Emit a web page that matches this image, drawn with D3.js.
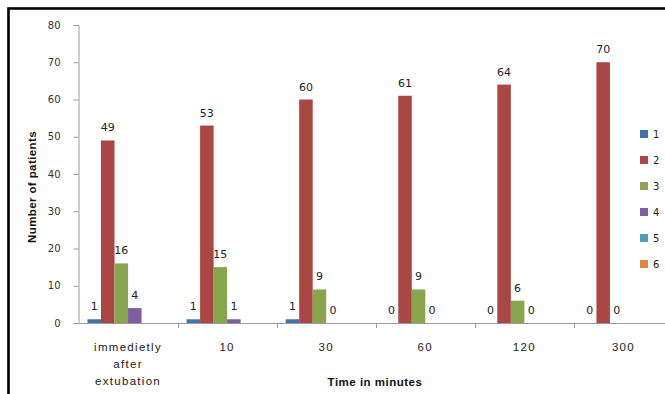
<!DOCTYPE html>
<html>
<head>
<meta charset="utf-8">
<script src="https://cdn.jsdelivr.net/npm/d3@7/dist/d3.min.js"></script>
<style>
  html, body { margin: 0; padding: 0; background: #fff; }
  svg { display: block; }
</style>
</head>
<body>
<svg id="chart" width="665" height="394"></svg>
<script>
// Categories along the x axis (time in minutes)
const categories = ["immedietly after extubation", "10", "30", "60", "120", "300"];
const categoryLines = [["immedietly", "after", "extubation"], ["10"], ["30"], ["60"], ["120"], ["300"]];

// Series names and values (null = no value recorded)
const seriesNames = ["1", "2", "3", "4", "5", "6"];
const series1 = [1, 1, 1, 0, 0, 0];
const series2 = [49, 53, 60, 61, 64, 70];
const series3 = [16, 15, 9, 9, 6, 0];
const series4 = [4, 1, 0, 0, 0, null];
const series5 = [null, null, null, null, null, null];
const series6 = [null, null, null, null, null, null];
const seriesValues = [series1, series2, series3, series4, series5, series6];

const yTicks = [0, 10, 20, 30, 40, 50, 60, 70, 80];
const colors = ["#4572A7", "#AA4643", "#89A54E", "#7D5E9E", "#4BA0B5", "#E0873D"];

const svg = d3.select("#chart");

// outer frame
svg.append("rect")
  .attr("x", 8.5).attr("y", 8.5)
  .attr("width", 700).attr("height", 420)
  .attr("fill", "none").attr("stroke", "#000").attr("stroke-width", 2.6);

const plotLeft = 78.5, plotRight = 673, plotTop = 25, plotBottom = 323;

const y = d3.scaleLinear().domain([0, 80]).range([plotBottom, plotTop]);
const x0 = d3.scaleBand().domain(categories).range([plotLeft, plotRight]).paddingInner(0).paddingOuter(0);
const x1 = d3.scaleBand().domain(seriesNames).range([9, x0.bandwidth() - 9]).padding(0);

// y axis
const yAxis = d3.axisLeft(y).tickValues(yTicks).tickSize(5).tickPadding(13);
const gy = svg.append("g").attr("transform", `translate(${plotLeft},0)`).call(yAxis);
gy.select(".domain").attr("stroke", "#9a9a9a");
gy.selectAll(".tick line").attr("stroke", "#9a9a9a");
gy.selectAll(".tick text")
  .attr("font-family", "DejaVu Sans, Verdana, sans-serif")
  .attr("font-size", 10).attr("fill", "#333");

// bars
const groups = svg.append("g").selectAll("g")
  .data(categories).join("g")
  .attr("transform", d => `translate(${x0(d)},0)`);

groups.each(function(cat, ci) {
  const g = d3.select(this);
  seriesNames.forEach((s, si) => {
    const v = seriesValues[si][ci];
    if (v === null) return;
    if (v > 0) {
      g.append("rect")
        .attr("x", x1(s)).attr("width", x1.bandwidth())
        .attr("y", y(v)).attr("height", y(0) - y(v))
        .attr("fill", colors[si]);
    }
  });
});

// x axis line and ticks
svg.append("line")
  .attr("x1", plotLeft).attr("x2", 665)
  .attr("y1", plotBottom + 0.5).attr("y2", plotBottom + 0.5)
  .attr("stroke", "#9a9a9a");
svg.append("g").selectAll("line")
  .data(categories.slice(1)).join("line")
  .attr("x1", d => Math.round(x0(d)) + 0.5).attr("x2", d => Math.round(x0(d)) + 0.5)
  .attr("y1", plotBottom).attr("y2", plotBottom + 5)
  .attr("stroke", "#9a9a9a");

// value labels
groups.each(function(cat, ci) {
  const g = d3.select(this);
  seriesNames.forEach((s, si) => {
    const v = seriesValues[si][ci];
    if (v === null) return;
    g.append("text")
      .attr("x", x1(s) + x1.bandwidth() / 2)
      .attr("y", y(v) - 9)
      .attr("text-anchor", "middle")
      .attr("font-family", "DejaVu Sans, Verdana, sans-serif")
      .attr("font-size", 11).attr("fill", "#222")
      .text(v);
  });
});

// category labels
groups.each(function(cat, ci) {
  const t = d3.select(this).append("text")
    .attr("text-anchor", "middle")
    .attr("font-family", "Liberation Sans, Arial, sans-serif")
    .attr("font-size", 11.5).attr("fill", "#222")
    .attr("letter-spacing", "1.3px");
  categoryLines[ci].forEach((line, li) => {
    t.append("tspan")
      .attr("x", x0.bandwidth() / 2)
      .attr("y", 351 + li * 17)
      .text(line);
  });
});

// axis titles
svg.append("text")
  .attr("x", 375).attr("y", 386)
  .attr("text-anchor", "middle")
  .attr("font-family", "Liberation Sans, Arial, sans-serif")
  .attr("font-weight", "bold").attr("font-size", 11.5)
  .attr("letter-spacing", "0.5px").attr("fill", "#111")
  .text("Time in minutes");

svg.append("text")
  .attr("transform", "translate(36,187) rotate(-90)")
  .attr("text-anchor", "middle")
  .attr("font-family", "Liberation Sans, Arial, sans-serif")
  .attr("font-weight", "bold").attr("font-size", 11.5)
  .attr("letter-spacing", "0.4px").attr("fill", "#111")
  .text("Number of patients");

// legend
const legend = svg.append("g").selectAll("g")
  .data(seriesNames).join("g")
  .attr("transform", (d, i) => `translate(640,${130 + i * 26})`);
legend.append("rect")
  .attr("width", 8).attr("height", 8)
  .attr("fill", (d, i) => colors[i]);
legend.append("text")
  .attr("x", 13).attr("y", 8)
  .attr("font-family", "DejaVu Sans, Verdana, sans-serif")
  .attr("font-size", 10).attr("fill", "#222")
  .text(d => d);
</script>
</body>
</html>
